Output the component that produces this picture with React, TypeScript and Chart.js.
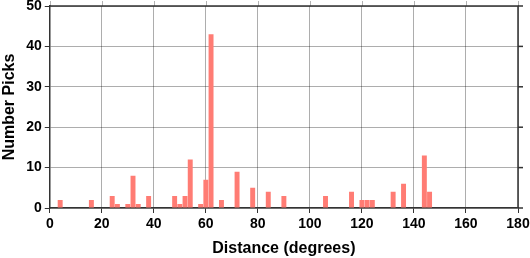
import React, { useEffect, useRef } from "react";
import { Chart, registerables } from "chart.js";

Chart.register(...registerables);

const distances = [4, 16, 24, 26, 30, 32, 34, 38, 48, 50, 52, 54, 58, 60, 62, 66, 72, 78, 84, 90, 106, 116, 120, 122, 124, 132, 136, 144, 146];
const picks = [2, 2, 3, 1, 1, 8, 1, 3, 3, 1, 3, 12, 1, 7, 43, 2, 9, 5, 4, 3, 3, 4, 2, 2, 2, 4, 6, 13, 4];
const xTitle = "Distance (degrees)";
const yTitle = "Number Picks";

const framePlugin = {
  id: "frame",
  afterDraw(chart: any) {
    const { ctx, chartArea } = chart;
    const { left, right, top, bottom } = chartArea;
    const yScale = chart.scales.y;
    const xScale = chart.scales.x;
    ctx.save();
    ctx.strokeStyle = "rgba(0,0,0,0.3)";
    ctx.lineWidth = 1;
    xScale.ticks.forEach((t: any) => {
      const px = Math.round(xScale.getPixelForValue(t.value)) + 0.5;
      ctx.beginPath();
      ctx.moveTo(px, top);
      ctx.lineTo(px, top - 5);
      ctx.stroke();
    });
    ctx.strokeStyle = "#333";
    ctx.lineWidth = 1.5;
    ctx.beginPath();
    ctx.moveTo(left, top);
    ctx.lineTo(right, top);
    ctx.lineTo(right, bottom);
    ctx.stroke();
    yScale.ticks.forEach((t: any) => {
      const py = yScale.getPixelForValue(t.value);
      ctx.beginPath();
      ctx.moveTo(right, py);
      ctx.lineTo(right + 5, py);
      ctx.stroke();
    });
    ctx.restore();
  },
};

export default function App() {
  const ref = useRef<HTMLCanvasElement | null>(null);
  useEffect(() => {
    document.body.style.margin = "0";
    const canvas = ref.current;
    if (!canvas) return;
    Chart.defaults.font.family = "'Liberation Sans', Arial, sans-serif";
    const chart = new Chart(canvas, {
      type: "bar",
      data: {
        datasets: [
          {
            data: distances.map((d, i) => ({ x: d, y: picks[i] })),
            backgroundColor: "#ff7c74",
            borderWidth: 0,
            barPercentage: 0.95,
            categoryPercentage: 1,
          },
        ],
      },
      plugins: [framePlugin],
      options: {
        animation: false,
        responsive: false,
        maintainAspectRatio: false,
        layout: { padding: { top: 0, right: 0, left: 0, bottom: 0 } },
        plugins: { legend: { display: false }, tooltip: { enabled: false } },
        scales: {
          x: {
            type: "linear",
            min: 0,
            max: 180,
            offset: false,
            afterFit: (scale: any) => {
              scale.paddingRight = 12;
            },
            ticks: { stepSize: 20, color: "#000", font: { size: 14, weight: "bold" }, padding: 3, maxRotation: 0 },
            grid: { color: "rgba(0,0,0,0.32)", tickColor: "#333", tickLength: 5, offset: false },
            border: { color: "#333", width: 1.5 },
            title: { display: true, text: xTitle, color: "#000", font: { size: 16, weight: "bold" }, padding: { top: 3, bottom: 0 } },
          },
          y: {
            min: 0,
            max: 50,
            afterFit: (scale: any) => {
              scale.paddingTop = 6;
            },
            ticks: { stepSize: 10, color: "#000", font: { size: 14, weight: "bold", lineHeight: 0.9 }, padding: 3 },
            grid: { color: "rgba(0,0,0,0.32)", tickColor: "#333", tickLength: 5 },
            border: { color: "#333", width: 1.5 },
            title: { display: true, text: yTitle, color: "#000", font: { size: 16, weight: "bold" }, padding: { top: 0, bottom: 4 } },
          },
        },
      },
    });
    return () => chart.destroy();
  }, []);
  return (
    <div style={{ width: 530, height: 258 }}>
      <canvas ref={ref} width={530} height={258} style={{ display: "block" }} />
    </div>
  );
}
